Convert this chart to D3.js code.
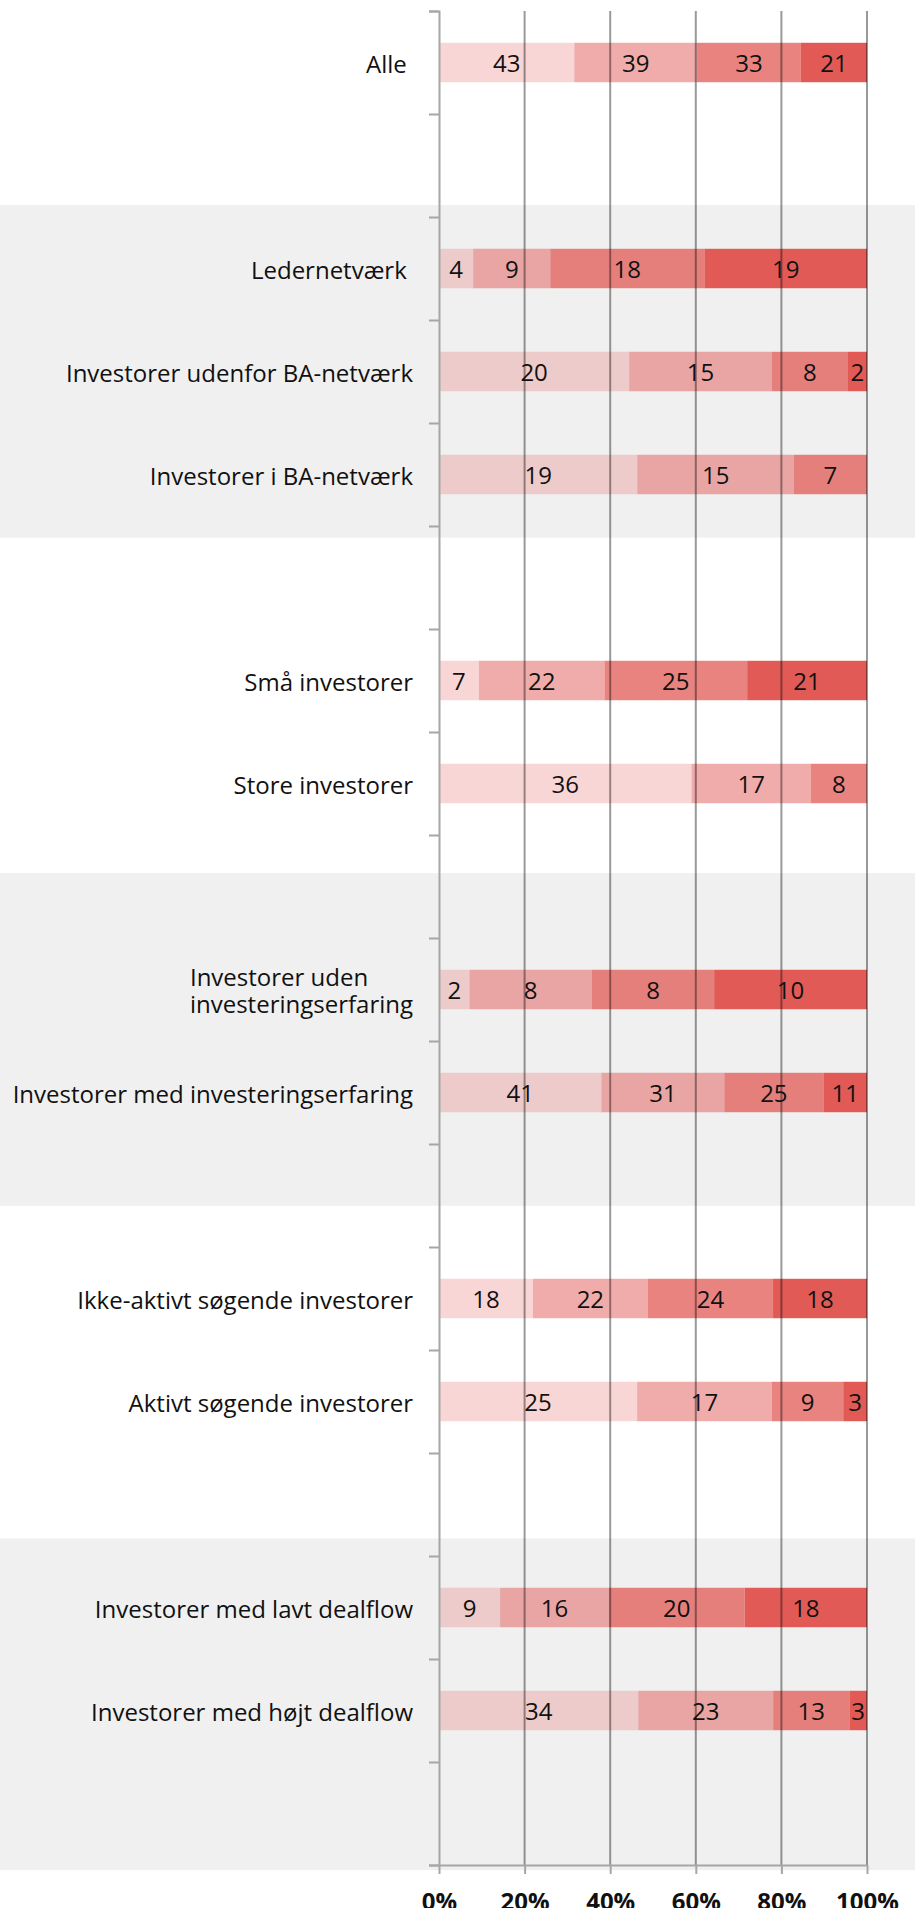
<!DOCTYPE html>
<html>
<head>
<meta charset="utf-8">
<script src="https://cdn.jsdelivr.net/npm/d3@7"></script>
<style>
  body { margin: 0; background: #fff; }
  svg text { font-family: "Open Sans", sans-serif; fill: #111; }
</style>
</head>
<body>
<div id="chart"></div>
<script>
// rows top to bottom; empty strings are spacer rows
const categories = [
  'Alle\u00a0', '',
  'Ledernetværk\u00a0', 'Investorer udenfor BA-netværk', 'Investorer i BA-netværk', '',
  'Små investorer', 'Store investorer', '',
  'Investorer uden\ninvesteringserfaring', 'Investorer med investeringserfaring', '',
  'Ikke-aktivt søgende investorer', 'Aktivt søgende investorer', '',
  'Investorer med lavt dealflow', 'Investorer med højt dealflow', ''
];

const series1 = [43, null, 4, 20, 19, null, 7, 36, null, 2, 41, null, 18, 25, null, 9, 34, null];
const series2 = [39, null, 9, 15, 15, null, 22, 17, null, 8, 31, null, 22, 17, null, 16, 23, null];
const series3 = [33, null, 18, 8, 7, null, 25, 8, null, 8, 25, null, 24, 9, null, 20, 13, null];
const series4 = [21, null, 19, 2, 0, null, 21, 0, null, 10, 11, null, 18, 3, null, 18, 3, null];

const xTicks = [0, 0.2, 0.4, 0.6, 0.8, 1];

// shaded bands, in row units from the top
const shadeRanges = [[1.883, 5.114], [8.37, 11.6], [14.83, 18.05]];

const width = 915;
const height = 1908;
const margin = { top: 11, right: 48, bottom: 43, left: 439 };

const allSeries = [series1, series2, series3, series4];
const seriesOpacity = [0.25, 0.5, 0.75, 1];
const barColor = '#e25a56';

const svg = d3.select('#chart')
  .append('svg')
  .attr('width', width)
  .attr('height', height);

const x = d3.scaleLinear()
  .domain([0, 1])
  .range([margin.left, width - margin.right]);

const y = d3.scaleBand()
  .domain(d3.range(categories.length))
  .range([margin.top, height - margin.bottom])
  .paddingInner(0.617)
  .paddingOuter(0.3085);

// row boundaries as a linear scale for the ticks
const yRow = d3.scaleLinear()
  .domain([0, categories.length])
  .range([margin.top, height - margin.bottom]);

// -------- background shading --------
svg.append('g')
  .selectAll('rect')
  .data(shadeRanges)
  .join('rect')
  .attr('x', 0)
  .attr('width', width)
  .attr('y', d => yRow(d[0]))
  .attr('height', d => yRow(d[1]) - yRow(d[0]))
  .attr('fill', '#f0f0f0');

// -------- stacked segments --------
const rows = categories.map((name, i) => {
  const vals = allSeries.map(s => s[i]);
  const total = d3.sum(vals);
  let acc = 0;
  const segs = vals.map((v, k) => {
    const seg = { row: i, k, value: v, x0: total ? acc / total : 0, x1: total ? (acc + (v || 0)) / total : 0 };
    acc += v || 0;
    return seg;
  });
  return { name, i, total, segs };
});

const segments = rows.flatMap(r => r.segs).filter(s => s.value);

svg.append('g')
  .attr('class', 'bars')
  .selectAll('rect')
  .data(segments)
  .join('rect')
  .attr('x', d => x(d.x0))
  .attr('width', d => x(d.x1) - x(d.x0))
  .attr('y', d => y(d.row))
  .attr('height', y.bandwidth())
  .attr('fill', barColor)
  .attr('fill-opacity', d => seriesOpacity[d.k]);

// -------- gridlines --------
svg.append('g')
  .attr('class', 'grid')
  .selectAll('line')
  .data(xTicks.slice(1))
  .join('line')
  .attr('x1', d => x(d))
  .attr('x2', d => x(d))
  .attr('y1', margin.top)
  .attr('y2', height - margin.bottom)
  .attr('stroke', '#000')
  .attr('stroke-opacity', 0.4)
  .attr('stroke-width', 2);

// -------- axes --------
const yAxis = svg.append('g')
  .attr('transform', `translate(${margin.left},0)`)
  .call(d3.axisLeft(yRow)
    .tickValues(d3.range(categories.length + 1))
    .tickFormat('')
    .tickSize(10)
    .tickSizeOuter(10));

const xAxis = svg.append('g')
  .attr('transform', `translate(0,${height - margin.bottom})`)
  .call(d3.axisBottom(x)
    .tickValues(xTicks)
    .tickFormat(d3.format('.0%'))
    .tickSize(9)
    .tickSizeOuter(0)
    .tickPadding(19));

[yAxis, xAxis].forEach(g => {
  g.select('.domain').attr('stroke', '#a6a6a6').attr('stroke-width', 2);
  g.selectAll('.tick line').attr('stroke', '#a6a6a6').attr('stroke-width', 2);
});

xAxis.selectAll('.tick text')
  .attr('font-size', 24)
  .attr('font-weight', 700)
  .attr('fill', '#111')
  .style('font-family', '"Open Sans", sans-serif');

// -------- value labels --------
svg.append('g')
  .attr('class', 'values')
  .selectAll('text')
  .data(segments)
  .join('text')
  .attr('x', d => x((d.x0 + d.x1) / 2))
  .attr('y', d => y(d.row) + y.bandwidth() / 2)
  .attr('dy', '0.4em')
  .attr('text-anchor', 'middle')
  .attr('font-size', 24)
  .text(d => d.value);

// -------- category labels --------
const labelRight = margin.left - 26;
const labels = svg.append('g').attr('class', 'labels');

rows.filter(r => r.name).forEach(r => {
  const lines = r.name.split('\n');
  const cy = y(r.i) + y.bandwidth() / 2;
  const t = labels.append('text')
    .attr('font-size', 24)
    .attr('text-anchor', 'start');
  const lh = 26.7;
  lines.forEach((line, j) => {
    t.append('tspan')
      .attr('y', cy + 10 + (j - (lines.length - 1) / 2) * lh)
      .text(line);
  });
  const w = d3.max(t.selectAll('tspan').nodes(), n => n.getComputedTextLength());
  t.selectAll('tspan').attr('x', labelRight - w);
});
</script>
</body>
</html>
